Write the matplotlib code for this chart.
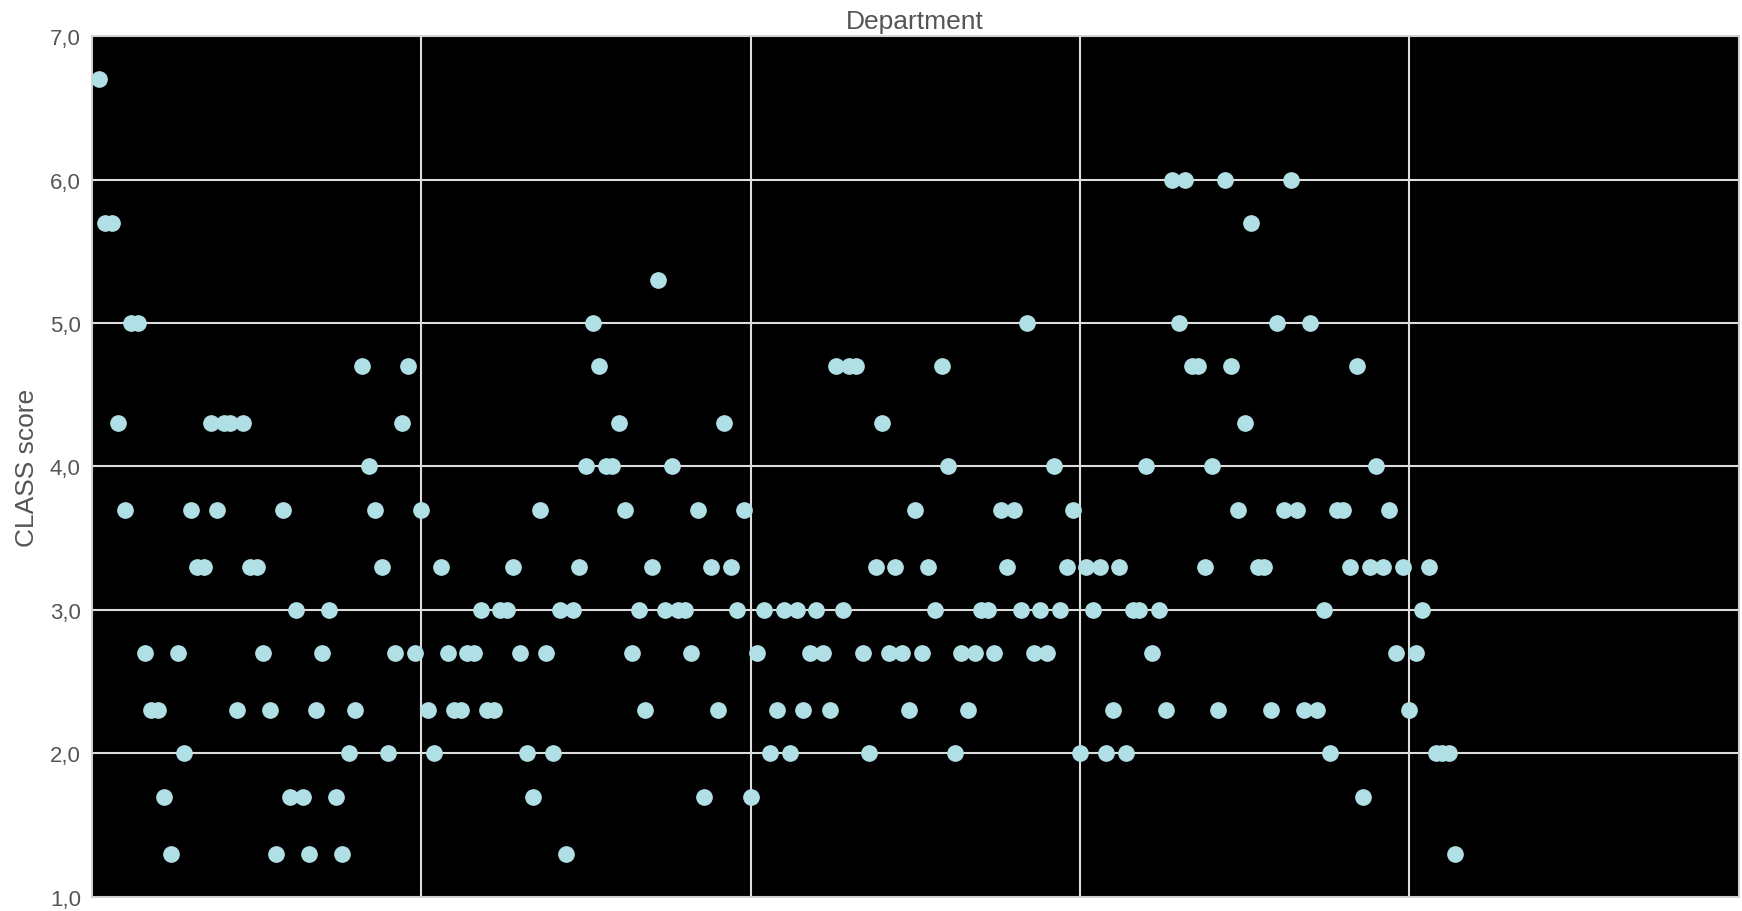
import numpy as np
import matplotlib
matplotlib.use('Agg')
import matplotlib.pyplot as plt
from matplotlib.ticker import FuncFormatter, MultipleLocator

plt.rcParams['font.family'] = ['Liberation Sans', 'DejaVu Sans']

# CLASS score per observation, in order of appearance
class_score = [
    6.7, 5.7, 5.7, 4.3, 3.7, 5.0, 5.0, 2.7, 2.3, 2.3,
    1.7, 1.3, 2.7, 2.0, 3.7, 3.3, 3.3, 4.3, 3.7, 4.3,
    4.3, 2.3, 4.3, 3.3, 3.3, 2.7, 2.3, 1.3, 3.7, 1.7,
    3.0, 1.7, 1.3, 2.3, 2.7, 3.0, 1.7, 1.3, 2.0, 2.3,
    4.7, 4.0, 3.7, 3.3, 2.0, 2.7, 4.3, 4.7, 2.7, 3.7,
    2.3, 2.0, 3.3, 2.7, 2.3, 2.3, 2.7, 2.7, 3.0, 2.3,
    2.3, 3.0, 3.0, 3.3, 2.7, 2.0, 1.7, 3.7, 2.7, 2.0,
    3.0, 1.3, 3.0, 3.3, 4.0, 5.0, 4.7, 4.0, 4.0, 4.3,
    3.7, 2.7, 3.0, 2.3, 3.3, 5.3, 3.0, 4.0, 3.0, 3.0,
    2.7, 3.7, 1.7, 3.3, 2.3, 4.3, 3.3, 3.0, 3.7, 1.7,
    2.7, 3.0, 2.0, 2.3, 3.0, 2.0, 3.0, 2.3, 2.7, 3.0,
    2.7, 2.3, 4.7, 3.0, 4.7, 4.7, 2.7, 2.0, 3.3, 4.3,
    2.7, 3.3, 2.7, 2.3, 3.7, 2.7, 3.3, 3.0, 4.7, 4.0,
    2.0, 2.7, 2.3, 2.7, 3.0, 3.0, 2.7, 3.7, 3.3, 3.7,
    3.0, 5.0, 2.7, 3.0, 2.7, 4.0, 3.0, 3.3, 3.7, 2.0,
    3.3, 3.0, 3.3, 2.0, 2.3, 3.3, 2.0, 3.0, 3.0, 4.0,
    2.7, 3.0, 2.3, 6.0, 5.0, 6.0, 4.7, 4.7, 3.3, 4.0,
    2.3, 6.0, 4.7, 3.7, 4.3, 5.7, 3.3, 3.3, 2.3, 5.0,
    3.7, 6.0, 3.7, 2.3, 5.0, 2.3, 3.0, 2.0, 3.7, 3.7,
    3.3, 4.7, 1.7, 3.3, 4.0, 3.3, 3.7, 2.7, 3.3, 2.3,
    2.7, 3.0, 3.3, 2.0, 2.0, 2.0, 1.3,
]
obs = np.arange(1, len(class_score) + 1)

fig = plt.figure(figsize=(17.42, 9.12), dpi=100)
ax = fig.add_axes([0.0528, 0.0154, 0.9452, 0.944])
ax.set_facecolor('black')

ax.plot(obs, class_score, 'o', color='#B0E0E6', markersize=11, zorder=3)

ax.set_xlim(0, 250)
ax.set_ylim(1, 7)
ax.xaxis.set_major_locator(MultipleLocator(50))
ax.yaxis.set_major_locator(MultipleLocator(1))
ax.yaxis.set_major_formatter(FuncFormatter(lambda v, p: f'{v:.1f}'.replace('.', ',')))
ax.set_xticklabels([])
ax.tick_params(axis='both', length=0, labelsize=16, labelcolor='#555555', pad=8)

ax.grid(True, color='#dddddd', linewidth=1.5, zorder=1)
ax.set_axisbelow(True)
for s in ax.spines.values():
    s.set_color('#cccccc')
    s.set_linewidth(1.2)

ax.set_title('Department', fontsize=19, color='#555555', pad=6)
ax.set_ylabel('CLASS score', fontsize=19, color='#555555', labelpad=8)

fig.savefig('out.png', dpi=100, facecolor='white')
